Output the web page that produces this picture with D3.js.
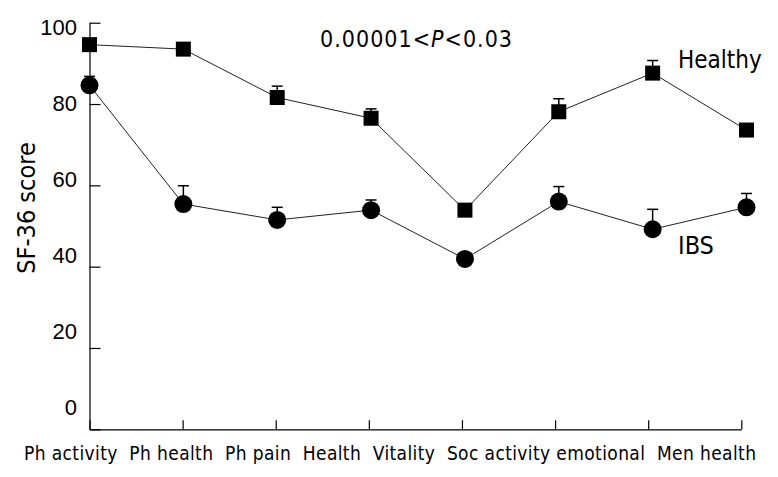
<!DOCTYPE html>
<html>
<head>
<meta charset="utf-8">
<script src="https://cdn.jsdelivr.net/npm/d3@7"></script>
<style>
body { margin: 0; background: #fff; }
svg { display: block; font-family: "DejaVu Sans Condensed", "DejaVu Sans", sans-serif; font-stretch: condensed; }
</style>
</head>
<body>
<svg id="chart" width="778" height="477"></svg>
<script>
// SF-36 domains
const categories = ["Ph activity", "Ph health", "Ph pain", "Health", "Vitality", "Soc activity", "emotional", "Men health"];
const healthy = [94.6, 93.5, 81.6, 76.5, 53.9, 78.1, 87.6, 73.6];
const healthyErr = [1, 1, 2.8, 2.3, 1, 3.2, 3.1, 1];
const ibs = [84.6, 55.4, 51.5, 53.9, 41.9, 56.0, 49.2, 54.6];
const ibsErr = [2.2, 4.5, 3.1, 2.5, 1, 3.7, 4.9, 3.4];
const yTicks = [0, 20, 40, 60, 80, 100];

const svg = d3.select("#chart");

var y = d3.scaleLinear().domain([0, 100]).range([429.3, 22.7]);
// the tick labels in the original creep upward against their ticks
var yLab = d3.scaleLinear().domain([0, 100]).range([407, 27]);
var xTick = d3.scalePoint().domain(categories).range([89.5, 741.3]);
var xPt = d3.scalePoint().domain(categories).range([89.5, 746.5]);

// y axis, ticks pointing inward
var yAxis = svg.append("g")
    .attr("transform", "translate(89.5,0)")
    .attr("font-family", null)
    .call(d3.axisLeft(y).tickValues(yTicks).tickSizeInner(-11).tickSizeOuter(0).tickPadding(12.5));
yAxis.selectAll("line").attr("stroke", "#000").attr("stroke-width", 1.2);
yAxis.select(".domain").attr("stroke", "#000").attr("stroke-width", 1.2);
yAxis.selectAll("text")
    .attr("y", d => yLab(d) - y(d))
    .attr("dy", "0.36em")
    .attr("fill", "#000")
    .style("font-size", "22px");

// x axis, ticks only
var xAxis = svg.append("g")
    .attr("transform", "translate(0," + y(0) + ")")
    .call(d3.axisBottom(xTick).tickSizeInner(-9).tickSizeOuter(0).tickFormat(""));
xAxis.selectAll("line").attr("stroke", "#000").attr("stroke-width", 1.2);
xAxis.select(".domain").attr("stroke", "#000").attr("stroke-width", 1.2);

// category labels run as one line of text under the axis
var labelStr = categories.map((c, i) => (i == 0 ? "" : (c == "emotional" ? " " : "  ")) + c).join("");
svg.append("text")
    .attr("x", 24)
    .attr("y", 460)
    .attr("xml:space", "preserve")
    .attr("textLength", 732)
    .attr("lengthAdjust", "spacing")
    .style("white-space", "pre")
    .style("font-size", "19px")
    .text(labelStr);

// y title
svg.append("text")
    .attr("transform", "translate(35,208) rotate(-90)")
    .attr("text-anchor", "middle")
    .style("font-size", "25px")
    .text("SF-36 score");

var line = d3.line()
    .x((d, i) => xPt(categories[i]))
    .y(d => y(d));

function drawSeries(vals, errs, marker) {
    svg.append("path")
        .attr("d", line(vals))
        .attr("fill", "none")
        .attr("stroke", "#222")
        .attr("stroke-width", 1);
    vals.forEach((v, i) => {
        var cx = xPt(categories[i]);
        svg.append("line")
            .attr("x1", cx).attr("x2", cx)
            .attr("y1", y(v)).attr("y2", y(v + errs[i]))
            .attr("stroke", "#000").attr("stroke-width", 1.5);
        svg.append("line")
            .attr("x1", cx - 5.5).attr("x2", cx + 5.5)
            .attr("y1", y(v + errs[i])).attr("y2", y(v + errs[i]))
            .attr("stroke", "#000").attr("stroke-width", 1.5);
        if (marker == "square") {
            svg.append("rect")
                .attr("x", cx - 7.5).attr("y", y(v) - 7.5)
                .attr("width", 15).attr("height", 15)
                .attr("fill", "#000");
        } else {
            svg.append("circle")
                .attr("cx", cx).attr("cy", y(v))
                .attr("r", 9)
                .attr("fill", "#000");
        }
    });
}
drawSeries(healthy, healthyErr, "square");
drawSeries(ibs, ibsErr, "circle");

// annotations
var pText = svg.append("text")
    .attr("x", 320)
    .attr("y", 47)
    .attr("textLength", 192)
    .attr("lengthAdjust", "spacing")
    .style("font-size", "23px");
pText.append("tspan").text("0.00001<");
pText.append("tspan").style("font-style", "italic").text("P");
pText.append("tspan").text("<0.03");

svg.append("text").attr("x", 678).attr("y", 68).style("font-size", "24px").text("Healthy");
svg.append("text").attr("x", 678).attr("y", 254).style("font-size", "25px").text("IBS");
</script>
</body>
</html>
